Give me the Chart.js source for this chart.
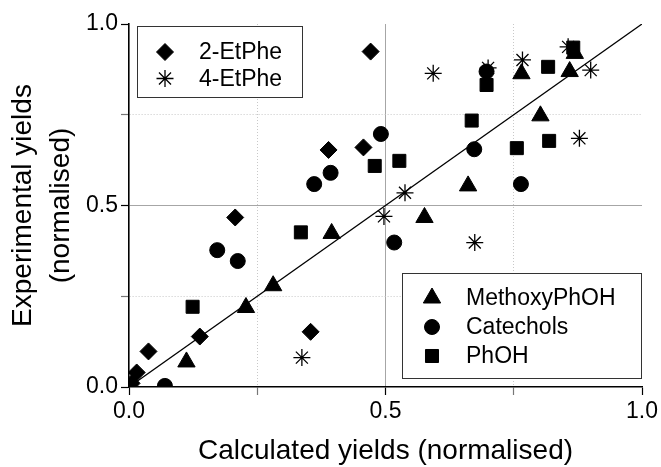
<!DOCTYPE html>
<html>
<head>
<meta charset="utf-8">
<title>Experimental vs calculated yields</title>
<script src="https://cdn.jsdelivr.net/npm/chart.js"></script>
<style>
  html, body { margin: 0; padding: 0; background: #fff; }
  #wrap { width: 661px; height: 467px; position: relative; }
</style>
</head>
<body>
<div id="wrap"><canvas id="yieldChart"></canvas></div>
<script>
// Series (x = calculated, y = experimental)
const etphe2X = [0.471, 0.389, 0.457, 0.207, 0.138, 0.038, 0.354, 0.015, 0.005];
const etphe2Y = [0.924, 0.653, 0.660, 0.467, 0.139, 0.098, 0.152, 0.040, 0.010];

const etphe4X = [0.593, 0.700, 0.767, 0.900, 0.856, 0.878, 0.538, 0.497, 0.674, 0.337];
const etphe4Y = [0.864, 0.879, 0.901, 0.873, 0.937, 0.685, 0.535, 0.470, 0.398, 0.081];

const methoxyX = [0.765, 0.859, 0.869, 0.802, 0.661, 0.576, 0.395, 0.281, 0.228, 0.112];
const methoxyY = [0.863, 0.869, 0.919, 0.747, 0.554, 0.467, 0.423, 0.279, 0.219, 0.069];

const catecholX = [0.491, 0.393, 0.361, 0.697, 0.673, 0.764, 0.172, 0.212, 0.517, 0.070];
const catecholY = [0.697, 0.590, 0.559, 0.869, 0.655, 0.559, 0.377, 0.347, 0.398, 0.003];

const phohX = [0.479, 0.697, 0.817, 0.866, 0.668, 0.819, 0.756, 0.527, 0.335, 0.124];
const phohY = [0.609, 0.832, 0.882, 0.935, 0.734, 0.678, 0.658, 0.623, 0.426, 0.221];

// y = x reference line
const fitX = [0, 1];
const fitY = [0, 1];

const axisTicks = [0, 0.25, 0.5, 0.75, 1];

function pairs(xs, ys) {
    return xs.map((x, i) => ({ x: x, y: ys[i] }));
}

const FONT = "'Liberation Sans', Arial, sans-serif";

function isMajor(v) {
    return Math.abs(v * 2 - Math.round(v * 2)) < 1e-9;
}

function gridColor(ctx) {
    if (!ctx.tick) return 'rgba(0,0,0,0)';
    const v = ctx.tick.value;
    if (v <= 0 || v >= 1) return 'rgba(0,0,0,0)';
    return v === 0.5 ? '#a6a6a6' : '#c8c8c8';
}

function gridDash(ctx) {
    if (!ctx.tick) return [];
    return isMajor(ctx.tick.value) ? [] : [1, 2];
}

function axis(titleOpts, fitFn) {
    return {
        type: 'linear',
        min: 0,
        max: 1,
        afterBuildTicks: function(scale) {
            scale.ticks = axisTicks.map(v => ({ value: v }));
        },
        afterFit: fitFn,
        ticks: {
            autoSkip: false,
            maxRotation: 0,
            padding: 3,
            color: '#000',
            font: { family: FONT, size: 23 },
            callback: v => isMajor(v) ? v.toFixed(1) : ''
        },
        grid: {
            color: gridColor,
            lineWidth: 1,
            drawTicks: true,
            tickLength: 8,
            tickColor: ctx => (ctx.tick && isMajor(ctx.tick.value)) ? '#000' : '#777',
            tickWidth: 1.2
        },
        border: {
            display: true,
            color: '#000',
            width: 1.6,
            dash: gridDash
        },
        title: titleOpts
    };
}

// two framed legends drawn inside the plot area
const boxLegends = {
    id: 'boxLegends',
    afterDatasetsDraw(chart) {
        const ctx = chart.ctx;
        const area = chart.chartArea;
        const groups = [
            { labels: ['2-EtPhe', '4-EtPhe'], left: area.left + 8, top: area.top + 2, w: 165, h: 71, first: 26, step: 26.5, mx: 28, tx: 62 },
            { labels: ['MethoxyPhOH', 'Catechols', 'PhOH'], left: area.right - 240, top: area.bottom - 114, w: 239, h: 105, first: 25, step: 29, mx: 30, tx: 64 }
        ];
        ctx.save();
        groups.forEach(g => {
            ctx.fillStyle = '#fff';
            ctx.fillRect(g.left, g.top, g.w, g.h);
            ctx.strokeStyle = '#333';
            ctx.lineWidth = 1;
            ctx.strokeRect(g.left + 0.5, g.top + 0.5, g.w, g.h);
            g.labels.forEach((label, i) => {
                const ds = chart.data.datasets.find(d => d.label === label);
                const y = g.top + g.first + i * g.step;
                ctx.fillStyle = '#000';
                ctx.strokeStyle = '#000';
                ctx.lineWidth = ds.borderWidth;
                Chart.helpers.drawPoint(ctx, {
                    pointStyle: ds.pointStyle,
                    radius: ds.pointRadius,
                    borderWidth: ds.borderWidth,
                    rotation: 0
                }, g.left + g.mx, y);
                ctx.fillStyle = '#000';
                ctx.font = '23px ' + FONT;
                ctx.textAlign = 'left';
                ctx.textBaseline = 'middle';
                ctx.fillText(label, g.left + g.tx, y + 1);
            });
        });
        ctx.restore();
    }
};

function markers(label, xs, ys, style, radius, order, bw) {
    return {
        label: label,
        data: pairs(xs, ys),
        pointStyle: style,
        pointRadius: radius,
        pointHoverRadius: radius,
        backgroundColor: '#000',
        borderColor: '#000',
        borderWidth: bw,
        showLine: false,
        order: order
    };
}

new Chart(document.getElementById('yieldChart'), {
    type: 'scatter',
    data: {
        datasets: [
            {
                label: 'fit',
                data: pairs(fitX, fitY),
                showLine: true,
                borderColor: '#000',
                borderWidth: 1.3,
                pointRadius: 0,
                fill: false,
                order: 0
            },
            markers('2-EtPhe', etphe2X, etphe2Y, 'rectRot', 8.5, 5, 1),
            markers('4-EtPhe', etphe4X, etphe4Y, 'star', 8.5, 4, 1.3),
            markers('MethoxyPhOH', methoxyX, methoxyY, 'triangle', 10, 3, 1),
            markers('Catechols', catecholX, catecholY, 'circle', 7.5, 2, 1),
            markers('PhOH', phohX, phohY, 'rect', 9.2, 1, 1)
        ]
    },
    options: {
        responsive: true,
        maintainAspectRatio: false,
        animation: false,
        layout: { padding: { left: 0, top: 24, right: 19, bottom: 0 } },
        plugins: {
            legend: { display: false },
            tooltip: { enabled: false }
        },
        scales: {
            x: axis({
                display: true,
                text: 'Calculated yields (normalised)',
                color: '#000',
                font: { family: FONT, size: 28, lineHeight: 1.15 },
                padding: { top: 0, bottom: 0 }
            }, s => { s.height = 80; }),
            y: axis({
                display: true,
                text: ['Experimental yields', '(normalised)'],
                color: '#000',
                font: { family: FONT, size: 28, lineHeight: 1.36 },
                padding: { top: 4, bottom: 0 }
            }, s => { s.width = 129; })
        }
    },
    plugins: [boxLegends]
});
</script>
</body>
</html>
